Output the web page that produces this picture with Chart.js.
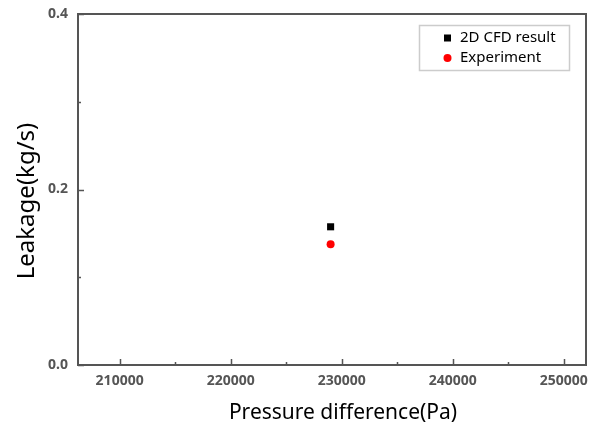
<!DOCTYPE html>
<html>
<head>
<meta charset="utf-8">
<script src="https://cdn.jsdelivr.net/npm/chart.js@4"></script>
<style>
  html, body { margin: 0; padding: 0; background: #fff; }
  #wrap { width: 595px; height: 426px; }
</style>
</head>
<body>
<div id="wrap"><canvas id="grafico" width="595" height="426"></canvas></div>
<script>
// datos
const seriesNames = ["2D CFD result", "Experiment"];
const pressure = [229000];
const cfdLeakage = [0.1575];
const expLeakage = [0.1375];
const xTicks = [210000, 220000, 230000, 240000, 250000];
const yTicks = [0.0, 0.2, 0.4];
const xTitulo = "Pressure difference(Pa)";
const yTitulo = "Leakage(kg/s)";

const ejeColor = "#555555";

// marco, ticks hacia adentro, titulos de ejes y leyenda
const marcoPlugin = {
    id: "marco",
    afterDraw(chart) {
        const { ctx, chartArea: a, scales } = chart;
        ctx.save();
        ctx.strokeStyle = ejeColor;
        ctx.lineWidth = 2;
        ctx.strokeRect(a.left, a.top, a.right - a.left, a.bottom - a.top);

        ctx.lineWidth = 1.5;
        const xs = scales.x, ys = scales.y;
        const xMenores = xTicks.slice(0, -1).map((v, i) => (v + xTicks[i + 1]) / 2);
        const yMenores = yTicks.slice(0, -1).map((v, i) => (v + yTicks[i + 1]) / 2);
        ctx.beginPath();
        xTicks.forEach(v => {
            const px = Math.round(xs.getPixelForValue(v)) + 0.5;
            ctx.moveTo(px, a.bottom); ctx.lineTo(px, a.bottom - 6);
        });
        xMenores.forEach(v => {
            const px = Math.round(xs.getPixelForValue(v)) + 0.5;
            ctx.moveTo(px, a.bottom); ctx.lineTo(px, a.bottom - 3);
        });
        yTicks.forEach(v => {
            const py = Math.round(ys.getPixelForValue(v)) + 0.5;
            ctx.moveTo(a.left, py); ctx.lineTo(a.left + 6, py);
        });
        yMenores.forEach(v => {
            const py = Math.round(ys.getPixelForValue(v)) + 0.5;
            ctx.moveTo(a.left, py); ctx.lineTo(a.left + 3, py);
        });
        ctx.stroke();

        // titulos de los ejes (algo descentrados como en el original)
        ctx.fillStyle = "#000";
        ctx.font = "21px 'Noto Sans', sans-serif";
        ctx.textAlign = "center";
        ctx.textBaseline = "alphabetic";
        ctx.fillText(xTitulo, 343, 419);

        ctx.save();
        ctx.translate(27, 201);
        ctx.rotate(-Math.PI / 2);
        ctx.font = "24px 'Noto Sans', sans-serif";
        ctx.textBaseline = "middle";
        ctx.fillText(yTitulo, 0, 0);
        ctx.restore();

        // leyenda
        const lx = 419, ly = 25, lw = 150, lh = 45;
        ctx.strokeStyle = "#cccccc";
        ctx.lineWidth = 1.5;
        ctx.strokeRect(lx + 0.5, ly + 0.5, lw, lh);
        ctx.font = "15px 'Noto Sans', sans-serif";
        ctx.textAlign = "left";
        ctx.textBaseline = "middle";
        chart.data.datasets.forEach((ds, i) => {
            const cy = ly + 13 + i * 20;
            ctx.fillStyle = ds.backgroundColor;
            if (ds.pointStyle === "rect") {
                ctx.fillRect(444, cy - 3.5, 7, 7);
            } else {
                ctx.beginPath();
                ctx.arc(447.5, cy, 4, 0, Math.PI * 2);
                ctx.fill();
            }
            ctx.fillStyle = "#000";
            ctx.fillText(ds.label, 460, cy);
        });
        ctx.restore();
    }
};

function crearGrafico() {
    const ctx = document.getElementById("grafico").getContext("2d");

    new Chart(ctx, {
        type: "scatter",
        data: {
            datasets: [
                {
                    label: seriesNames[0],
                    data: pressure.map((p, i) => ({ x: p, y: cfdLeakage[i] })),
                    pointStyle: "rect",
                    pointRadius: 5,
                    backgroundColor: "#000000",
                    borderWidth: 0
                },
                {
                    label: seriesNames[1],
                    data: pressure.map((p, i) => ({ x: p, y: expLeakage[i] })),
                    pointStyle: "circle",
                    pointRadius: 4,
                    backgroundColor: "#ff0000",
                    borderWidth: 0
                }
            ]
        },
        options: {
            responsive: false,
            animation: false,
            layout: { padding: { left: 0, right: 9, top: 14, bottom: 0 } },
            plugins: {
                legend: { display: false },
                tooltip: { enabled: false }
            },
            scales: {
                x: {
                    type: "linear",
                    min: 206250,
                    max: 252000,
                    grid: { display: false, drawTicks: false },
                    border: { display: false },
                    afterBuildTicks: s => { s.ticks = xTicks.map(v => ({ value: v })); },
                    afterFit: s => { s.height = 61; s.paddingLeft = 0; s.paddingRight = 0; },
                    ticks: {
                        padding: 8,
                        color: ejeColor,
                        font: { family: "'Noto Sans', sans-serif", size: 14, weight: "bold" },
                        maxRotation: 0,
                        callback: v => String(v)
                    }
                },
                y: {
                    type: "linear",
                    min: 0,
                    max: 0.4,
                    grid: { display: false, drawTicks: false },
                    border: { display: false },
                    afterBuildTicks: s => { s.ticks = yTicks.map(v => ({ value: v })); },
                    afterFit: s => { s.width = 78; s.paddingTop = 0; s.paddingBottom = 0; },
                    ticks: {
                        padding: 10,
                        color: ejeColor,
                        font: { family: "'Noto Sans', sans-serif", size: 14, weight: "bold" },
                        callback: v => v.toFixed(1)
                    }
                }
            }
        },
        plugins: [marcoPlugin]
    });
}

window.addEventListener("DOMContentLoaded", () => {
    crearGrafico();
});
</script>
</body>
</html>
